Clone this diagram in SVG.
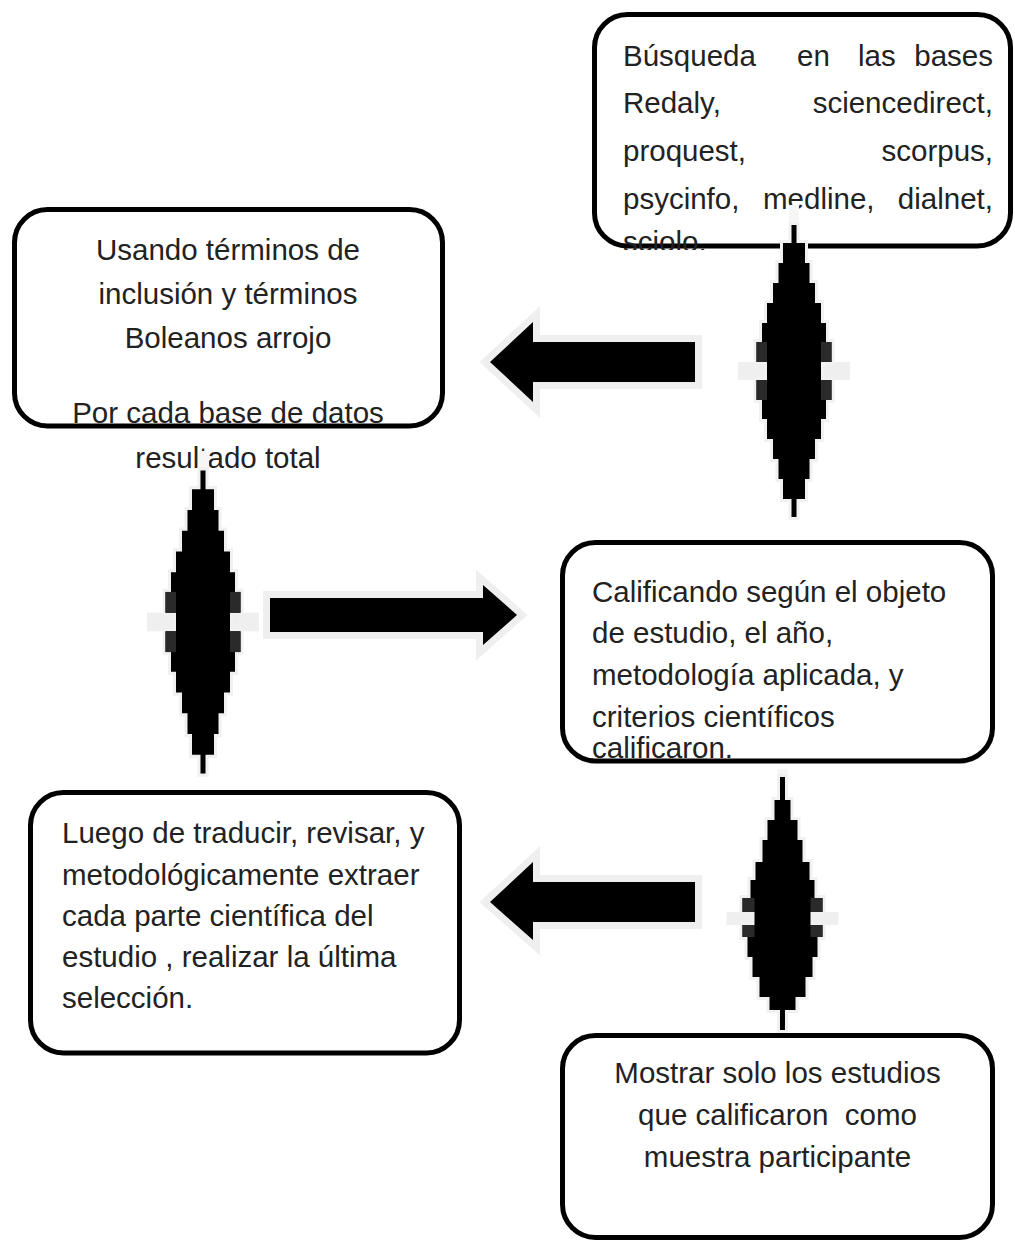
<svg xmlns="http://www.w3.org/2000/svg" width="1015" height="1244" viewBox="0 0 1015 1244">
<style>
.box{fill:#fff;stroke:#000;stroke-width:5}
.t{font-family:"Liberation Sans",Arial,sans-serif;font-size:29.5px;fill:#222;white-space:pre}
.c{text-anchor:middle}
.e{text-anchor:end}
.halo{fill:none;stroke:#efefef;stroke-width:14;stroke-linejoin:miter;stroke-miterlimit:10}
.arr{fill:#000}
.dh{fill:none;stroke:#f1f1f1;stroke-width:6;vector-effect:non-scaling-stroke}
.dk{fill:#000}
.band{fill:#efefef}
.edge{fill:#2a2a2a}
.glow{fill:#f6f6f6}
</style>
<defs>
<clipPath id="clip1"><rect x="590" y="0" width="425" height="250"/></clipPath>
<path id="dia" d="M -2.5,-146 H 2.5 V -128 H 11 V -108 H 15.5 V -88 H 21 V -68 H 27 V -48 H 32 V -29 H 37.5 V -9 H 27 V 9 H 37.5 V 29 H 32 V 48 H 27 V 68 H 21 V 88 H 15.5 V 108 H 11 V 128 H 2.5 V 146 H -2.5 V 128 H -11 V 108 H -15.5 V 88 H -21 V 68 H -27 V 48 H -32 V 29 H -37.5 V 9 H -27 V -9 H -37.5 V -29 H -32 V -48 H -27 V -68 H -21 V -88 H -15.5 V -108 H -11 V -128 H -2.5 Z"/>
<g id="diamond">
<rect class="band" x="-56" y="-9" width="112" height="18"/>
<use href="#dia" class="dh"/>
<use href="#dia" class="dk"/>
<rect class="edge" x="27" y="-29" width="10.5" height="20"/>
<rect class="edge" x="-37.5" y="-29" width="10.5" height="20"/>
<rect class="edge" x="27" y="9" width="10.5" height="20"/>
<rect class="edge" x="-37.5" y="9" width="10.5" height="20"/>
</g>
</defs>

<g id="node-busqueda">
<rect class="box" x="594.5" y="14.5" width="416" height="231.5" rx="33"/>
<g clip-path="url(#clip1)">
<text class="t" x="623" y="66">Búsqueda</text>
<text class="t" x="797" y="66">en</text>
<text class="t" x="858" y="66">las</text>
<text class="t e" x="993" y="66">bases</text>
<text class="t" x="623" y="113">Redaly,</text>
<text class="t e" x="993" y="113">sciencedirect,</text>
<text class="t" x="623" y="161">proquest,</text>
<text class="t e" x="993" y="161">scorpus,</text>
<text class="t" x="623" y="209">psycinfo,</text>
<text class="t" x="763" y="209">medline,</text>
<text class="t e" x="993" y="209">dialnet,</text>
<text class="t" x="623" y="252">sciolo.</text>
</g>
</g>

<g id="node-usando">
<rect class="box" x="14.5" y="209.5" width="428" height="216.5" rx="33"/>
<text class="t c" x="228" y="260">Usando términos de</text>
<text class="t c" x="228" y="304">inclusión y términos</text>
<text class="t c" x="228" y="348">Boleanos arrojo</text>
<text class="t c" x="228" y="423">Por cada base de datos</text>
<text class="t c" x="228" y="468">resultado total</text>
</g>

<g id="node-calificando">
<rect class="box" x="562.5" y="542.5" width="430" height="218.5" rx="33"/>
<text class="t" x="592" y="602">Calificando según el objeto</text>
<text class="t" x="592" y="643">de estudio, el año,</text>
<text class="t" x="592" y="685">metodología aplicada, y</text>
<text class="t" x="592" y="727">criterios científicos</text>
<text class="t" x="592" y="758">calificaron.</text>
</g>

<g id="node-luego">
<rect class="box" x="30.5" y="792.5" width="429" height="260.5" rx="33"/>
<text class="t" x="62" y="843">Luego de traducir, revisar, y</text>
<text class="t" x="62" y="885">metodológicamente extraer</text>
<text class="t" x="62" y="926">cada parte científica del</text>
<text class="t" x="62" y="967">estudio , realizar la última</text>
<text class="t" x="62" y="1008">selección.</text>
</g>

<g id="node-mostrar">
<rect class="box" x="562.5" y="1035.5" width="430" height="202" rx="33"/>
<text class="t c" x="777.5" y="1083">Mostrar solo los estudios</text>
<text class="t c" x="777.5" y="1125">que calificaron  como</text>
<text class="t c" x="777.5" y="1167">muestra participante</text>
</g>

<g id="connectors">
<g id="arrow-left-1">
<polygon class="halo" points="490,362 533,322 533,342 695,342 695,382 533,382 533,402"/>
<polygon class="arr" points="490,362 533,322 533,342 695,342 695,382 533,382 533,402"/>
</g>
<g id="arrow-right-2">
<polygon class="halo" points="517,615 483,585 483,598 270,598 270,632 483,632 483,645"/>
<polygon class="arr" points="517,615 483,585 483,598 270,598 270,632 483,632 483,645"/>
</g>
<g id="arrow-left-3">
<polygon class="halo" points="490,902 533,862 533,882 695,882 695,922 533,922 533,940"/>
<polygon class="arr" points="490,902 533,862 533,882 695,882 695,922 533,922 533,940"/>
</g>
<g id="diamond-1">
<rect class="glow" x="789" y="205" width="10" height="22"/>
<use href="#diamond" transform="translate(794,371)"/>
</g>
<g id="diamond-2">
<rect class="glow" x="198" y="451" width="11" height="21"/>
<use href="#diamond" transform="translate(203,622) scale(1,1.038)"/>
</g>
<g id="diamond-3" transform="translate(782.5,0)">
<rect class="glow" x="-5" y="769" width="10" height="10"/>
<rect class="band" x="-56" y="912" width="112" height="13"/>
<path class="dh" d="M -2.5,777 H 2.5 V 800 H 8 V 820 H 15 V 840 H 20 V 862 H 27 V 880 H 32 V 898 H 40 V 912 H 28 V 925 H 40 V 937 H 35 V 957 H 30 V 977 H 23 V 997 H 13 V 1010 H 2.5 V 1030 H -2.5 V 1010 H -13 V 997 H -23 V 977 H -30 V 957 H -35 V 937 H -40 V 925 H -28 V 912 H -40 V 898 H -32 V 880 H -27 V 862 H -20 V 840 H -15 V 820 H -8 V 800 H -2.5 Z"/>
<path class="dk" d="M -2.5,777 H 2.5 V 800 H 8 V 820 H 15 V 840 H 20 V 862 H 27 V 880 H 32 V 898 H 40 V 912 H 28 V 925 H 40 V 937 H 35 V 957 H 30 V 977 H 23 V 997 H 13 V 1010 H 2.5 V 1030 H -2.5 V 1010 H -13 V 997 H -23 V 977 H -30 V 957 H -35 V 937 H -40 V 925 H -28 V 912 H -40 V 898 H -32 V 880 H -27 V 862 H -20 V 840 H -15 V 820 H -8 V 800 H -2.5 Z"/>
<rect class="edge" x="28" y="898" width="12" height="14"/>
<rect class="edge" x="-40" y="898" width="12" height="14"/>
<rect class="edge" x="28" y="925" width="12" height="12"/>
<rect class="edge" x="-40" y="925" width="12" height="12"/>
</g>
</g>
</svg>
